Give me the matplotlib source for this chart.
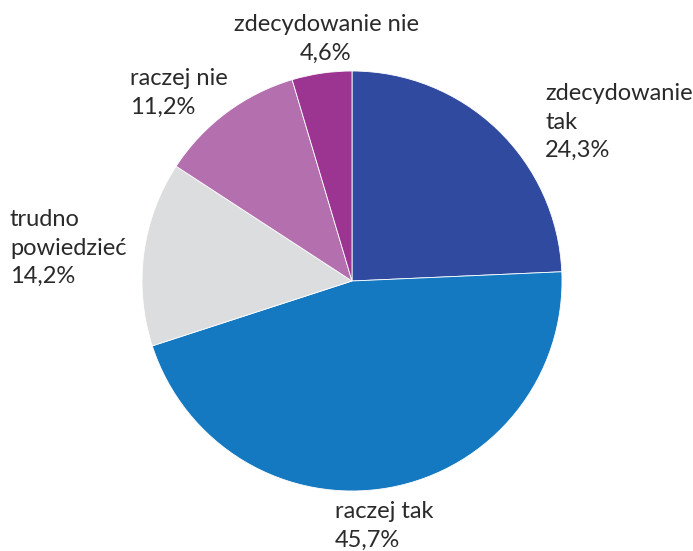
import matplotlib
matplotlib.use("Agg")
from matplotlib import pyplot as plt

labels = ["zdecydowanie\ntak", "raczej tak", "trudno\npowiedzieć", "raczej nie", "zdecydowanie nie"]
values = [24.3, 45.7, 14.2, 11.2, 4.6]
colors = ["#2F4A9F", "#1479C1", "#DCDDDF", "#B36FAE", "#9C3591"]

# label anchors in pixels (x, y top) and alignment
label_pos = [(545, 83, "left"), (335, 501, "left"), (10, 209, "left"), (130, 68, "left"), (326, 14, "center")]

W, H = 693, 551
fig = plt.figure(figsize=(W / 100, H / 100), dpi=100)
cx, cy, r = 352, 281, 210
ax = fig.add_axes([(cx - r) / W, (H - cy - r) / H, 2 * r / W, 2 * r / H])
ax.pie(values, colors=colors, startangle=90, counterclock=False,
       wedgeprops=dict(edgecolor="white", linewidth=0.6))
ax.set_xlim(-1, 1)
ax.set_ylim(-1, 1)
ax.set_aspect("equal")
ax.axis("off")

for lab, val, (px, py, ha) in zip(labels, values, label_pos):
    txt = lab + "\n" + f"{val:.1f}".replace(".", ",") + "%"
    fig.text(px / W, 1 - py / H, txt, ha=ha, va="top", fontsize=17,
             family="Lato", color="#2A2A2A",
             linespacing=1.45, multialignment=ha)

fig.savefig("out.png", dpi=100)
